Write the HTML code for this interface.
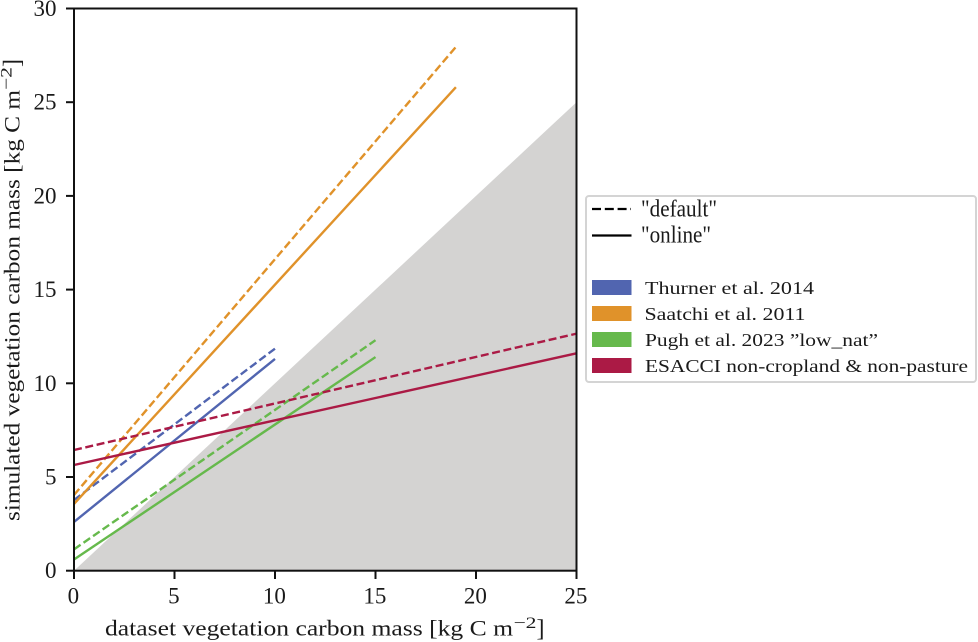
<!DOCTYPE html>
<html>
<head>
<meta charset="utf-8">
<title>Simulated vs dataset vegetation carbon mass</title>
<style>
html,body{margin:0;padding:0;background:#fff;}
svg{display:block;}
text{font-family:"Liberation Serif",serif;fill:#1a1a1a;}
</style>
</head>
<body>
<svg id="chart" xmlns="http://www.w3.org/2000/svg" width="978" height="642" viewBox="0 0 978 642">
  <rect x="0" y="0" width="978" height="642" fill="#fff"/>
  <g id="plot"></g>
  <rect x="74" y="8.5" width="502.5" height="562.2" fill="none" stroke="#111" stroke-width="2"/>
  <g id="axes"></g>

  <text x="105" y="635.5" font-size="22" textLength="408" lengthAdjust="spacingAndGlyphs">dataset vegetation carbon mass [kg C m</text>
  <text x="513.5" y="628" font-size="16" textLength="23" lengthAdjust="spacingAndGlyphs">−2</text>
  <text x="536.5" y="636" font-size="24">]</text>

  <g transform="translate(19.5,521) rotate(-90)">
    <text x="0" y="0" font-size="22" textLength="431" lengthAdjust="spacingAndGlyphs">simulated vegetation carbon mass [kg C m</text>
    <text x="431" y="-8" font-size="16" textLength="23" lengthAdjust="spacingAndGlyphs">−2</text>
    <text x="454" y="0" font-size="24">]</text>
  </g>

  <g>
    <rect x="586" y="196" width="390" height="186" rx="3" fill="#fff" stroke="#d4d4d4" stroke-width="2"/>
    <line x1="592" y1="209" x2="631" y2="209" stroke="#000" stroke-width="2.3" stroke-dasharray="9 3.8"/>
    <text x="641" y="216.5" font-size="24" textLength="76" lengthAdjust="spacingAndGlyphs">"default"</text>
    <line x1="592" y1="235.5" x2="631.5" y2="235.5" stroke="#000" stroke-width="2.3"/>
    <text x="641" y="242.5" font-size="24" textLength="70" lengthAdjust="spacingAndGlyphs">"online"</text>

    <rect x="592" y="280" width="39.5" height="15" fill="#5165b0"/>
    <text x="645" y="294" font-size="18" textLength="169" lengthAdjust="spacingAndGlyphs">Thurner et al. 2014</text>
    <rect x="592" y="306" width="39.5" height="15" fill="#e0922a"/>
    <text x="644.5" y="320" font-size="18" textLength="161" lengthAdjust="spacingAndGlyphs">Saatchi et al. 2011</text>
    <rect x="592" y="332" width="39.5" height="15" fill="#66b94c"/>
    <text x="645" y="346" font-size="18" textLength="233" lengthAdjust="spacingAndGlyphs">Pugh et al. 2023 ”low_nat”</text>
    <rect x="592" y="358" width="39.5" height="15" fill="#ab1a45"/>
    <text x="645" y="372" font-size="18" textLength="323" lengthAdjust="spacingAndGlyphs">ESACCI non-cropland &amp; non-pasture</text>
  </g>
</svg>
<script>
const seriesKeys = ['thurner', 'saatchi', 'pugh', 'esacci'];
const seriesEndX = [10, 19, 15, 25];
const defaultStartY = [3.77, 4.04, 1.14, 6.44];
const defaultEndY = [11.85, 27.95, 12.3, 12.65];
const onlineStartY = [2.6, 3.56, 0.6, 5.64];
const onlineEndY = [11.3, 25.8, 11.4, 11.6];
const xTicks = [0, 5, 10, 15, 20, 25];
const yTicks = [0, 5, 10, 15, 20, 25, 30];
const xMax = 25;
const yMax = 30;

const NS = 'http://www.w3.org/2000/svg';
const colors = ['#5165b0', '#e0922a', '#66b94c', '#ab1a45'];
const plot = document.getElementById('plot');
const axes = document.getElementById('axes');
function sx(v) { return 74 + v / xMax * 502.5; }
function sy(v) { return 570.7 - v / yMax * 562.2; }
function make(tag, attrs, parent) {
  const el = document.createElementNS(NS, tag);
  for (const k in attrs) el.setAttribute(k, attrs[k]);
  parent.appendChild(el);
  return el;
}

const region = make('polygon', {
  points: [[0, 0], [xMax, xMax], [xMax, 0]].map(p => sx(p[0]) + ',' + sy(p[1])).join(' '),
  fill: '#d4d3d2'
}, plot);



seriesKeys.forEach((key, i) => {
  const dashed = make('line', {
    x1: sx(0), y1: sy(defaultStartY[i]), x2: sx(seriesEndX[i]), y2: sy(defaultEndY[i]),
    stroke: colors[i], 'stroke-width': 2.4, 'stroke-dasharray': '8 3.6'
  }, plot);
  
  
  const solid = make('line', {
    x1: sx(0), y1: sy(onlineStartY[i]), x2: sx(seriesEndX[i]), y2: sy(onlineEndY[i]),
    stroke: colors[i], 'stroke-width': 2.4
  }, plot);
  
  
});

xTicks.forEach(t => {
  const tick = make('line', { x1: sx(t), x2: sx(t), y1: 570.7, y2: 579, stroke: '#111', 'stroke-width': 2 }, axes);
  
  
  const label = make('text', { x: sx(t) - 0.6, y: 603.5, 'font-size': 23, 'text-anchor': 'middle' }, axes);
  
  
  label.textContent = t;
});
yTicks.forEach(t => {
  const tick = make('line', { x1: 66, x2: 74, y1: sy(t), y2: sy(t), stroke: '#111', 'stroke-width': 2 }, axes);
  
  
  const label = make('text', { x: 56.5, y: sy(t) + 7.5, 'font-size': 23, 'text-anchor': 'end' }, axes);
  
  
  label.textContent = t;
});
</script>
</body>
</html>
